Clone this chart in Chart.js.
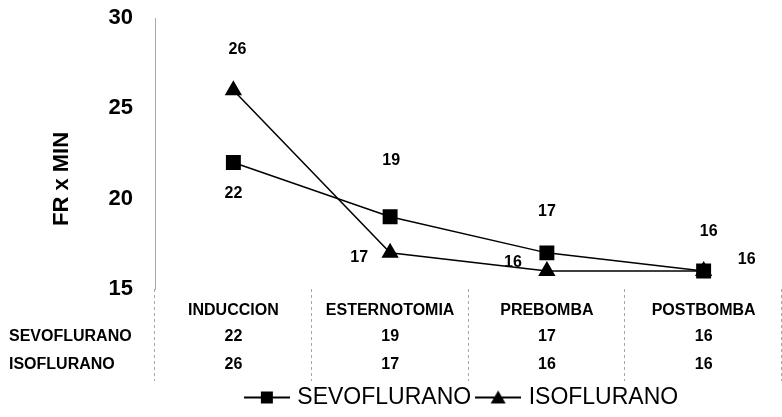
<!DOCTYPE html>
<html>
<head>
<meta charset="utf-8">
<script src="https://cdn.jsdelivr.net/npm/chart.js@4.4.0/dist/chart.umd.min.js"></script>
<style>
  html, body { margin: 0; padding: 0; background: #fff; }
</style>
</head>
<body>
<canvas id="fr-chart" width="782" height="417"></canvas>
<script>
/* datos */
const categories = ['INDUCCION', 'ESTERNOTOMIA', 'PREBOMBA', 'POSTBOMBA'];
const sevoflurano = [22, 19, 17, 16];
const isoflurano = [26, 17, 16, 16];
const yTicks = [15, 20, 25, 30];
const yTitle = 'FR x MIN';

// posición de las etiquetas de datos, relativa al punto (dx, dy)
const sevoLabelOffsets = [[0, 31], [1, -56], [0, -41], [5, -39]];
const isoLabelOffsets = [[4, -41], [-31, 5], [-34, -8], [43, -11]];

const FONT = 'Arial, "Liberation Sans", sans-serif';

function legendIcon(shape) {
    const cv = document.createElement('canvas');
    cv.width = 46; cv.height = 20;
    const g = cv.getContext('2d');
    g.strokeStyle = '#000'; g.lineWidth = 2;
    g.beginPath(); g.moveTo(0, 10); g.lineTo(46, 10); g.stroke();
    g.fillStyle = '#000';
    if (shape === 'rect') {
        g.fillRect(17, 4, 12, 12);
    } else {
        g.beginPath(); g.moveTo(23, 3); g.lineTo(30.5, 16); g.lineTo(15.5, 16); g.closePath(); g.fill();
    }
    return cv;
}
const legendIcons = [legendIcon('rect'), legendIcon('triangle')];

// etiquetas de valores sobre los puntos
const pointLabels = {
    id: 'pointLabels',
    afterDatasetsDraw(chart) {
        const { ctx } = chart;
        const offsets = [sevoLabelOffsets, isoLabelOffsets];
        ctx.save();
        ctx.font = `bold 16px ${FONT}`;
        ctx.fillStyle = '#000';
        ctx.textAlign = 'center';
        ctx.textBaseline = 'middle';
        chart.data.datasets.forEach((ds, d) => {
            chart.getDatasetMeta(d).data.forEach((pt, i) => {
                const [dx, dy] = offsets[d][i];
                ctx.fillText(String(ds.data[i]), pt.x + dx, pt.y + dy);
            });
        });
        ctx.restore();
    },
};

// tabla de datos bajo el eje X + título del eje Y
const dataTable = {
    id: 'dataTable',
    afterLayout(chart) {
        // desplazar la leyenda como en el original
        const lg = chart.legend;
        if (lg) { lg.left += 72; lg.right += 72; lg.top += 2; lg.bottom += 2; }
    },
    afterDraw(chart) {
        const { ctx, chartArea, scales: { x } } = chart;
        const bin = (chartArea.right - chartArea.left) / categories.length;
        ctx.save();

        ctx.strokeStyle = '#a8a8a8';
        ctx.lineWidth = 1;
        ctx.setLineDash([3, 3]);
        for (let i = 0; i <= categories.length; i++) {
            const xx = Math.round(chartArea.left + i * bin) - 0.5;
            ctx.beginPath();
            ctx.moveTo(xx, chartArea.bottom);
            ctx.lineTo(xx, chartArea.bottom + 92);
            ctx.stroke();
        }
        ctx.setLineDash([]);

        const rows = [['SEVOFLURANO', sevoflurano], ['ISOFLURANO', isoflurano]];
        ctx.fillStyle = '#000';
        ctx.font = `bold 16px ${FONT}`;
        ctx.textBaseline = 'middle';
        rows.forEach(([name, vals], r) => {
            const yy = chartArea.bottom + 48 + r * 28;
            ctx.textAlign = 'left';
            ctx.fillText(name, 9, yy);
            ctx.textAlign = 'center';
            vals.forEach((v, i) => ctx.fillText(String(v), x.getPixelForValue(i), yy));
        });

        ctx.translate(62, 179);
        ctx.rotate(-Math.PI / 2);
        ctx.font = `bold 22px ${FONT}`;
        ctx.textAlign = 'center';
        ctx.fillText(yTitle, 0, 0);
        ctx.restore();
    },
};

const canvas = document.getElementById('fr-chart');
new Chart(canvas, {
    type: 'line',
    data: {
        labels: categories,
        datasets: [{
            label: 'SEVOFLURANO',
            data: sevoflurano,
            borderColor: '#000',
            backgroundColor: '#000',
            borderWidth: 1.5,
            pointStyle: 'rect',
            pointRadius: 9.5,
            pointHoverRadius: 9.5,
            tension: 0,
            clip: false,
        }, {
            label: 'ISOFLURANO',
            data: isoflurano,
            borderColor: '#000',
            backgroundColor: '#000',
            borderWidth: 1.5,
            pointStyle: 'triangle',
            pointRadius: 8.5,
            pointHoverRadius: 8.5,
            tension: 0,
            clip: false,
        }],
    },
    options: {
        responsive: false,
        animation: false,
        events: [],
        layout: { autoPadding: false, padding: { top: 18, right: 0, bottom: 0, left: 0 } },
        plugins: {
            tooltip: { enabled: false },
            legend: {
                position: 'bottom',
                labels: {
                    color: '#000',
                    font: { size: 23, family: FONT },
                    usePointStyle: true,
                    pointStyleWidth: 38,
                    padding: 8,
                    generateLabels: (chart) => Chart.defaults.plugins.legend.labels.generateLabels(chart)
                        .map((it, i) => ({ ...it, pointStyle: legendIcons[i] })),
                },
            },
        },
        scales: {
            x: {
                offset: true,
                grid: { display: false, offset: true },
                border: { display: false },
                ticks: { color: '#000', font: { size: 16, weight: 'bold', family: FONT }, padding: 4, maxRotation: 0 },
                afterFit: (s) => { s.height = 87; },
            },
            y: {
                min: 15,
                max: 30,
                grid: { display: false },
                border: { display: true, dash: [3, 3], color: '#a8a8a8', width: 1 },
                ticks: { color: '#000', font: { size: 22, weight: 'bold', family: FONT }, padding: 14 },
                afterBuildTicks: (s) => { s.ticks = yTicks.map(v => ({ value: v })); },
                afterFit: (s) => { s.width = 155; s.paddingTop = 0; s.paddingBottom = 0; },
            },
        },
    },
    plugins: [pointLabels, dataTable],
});
</script>
</body>
</html>
